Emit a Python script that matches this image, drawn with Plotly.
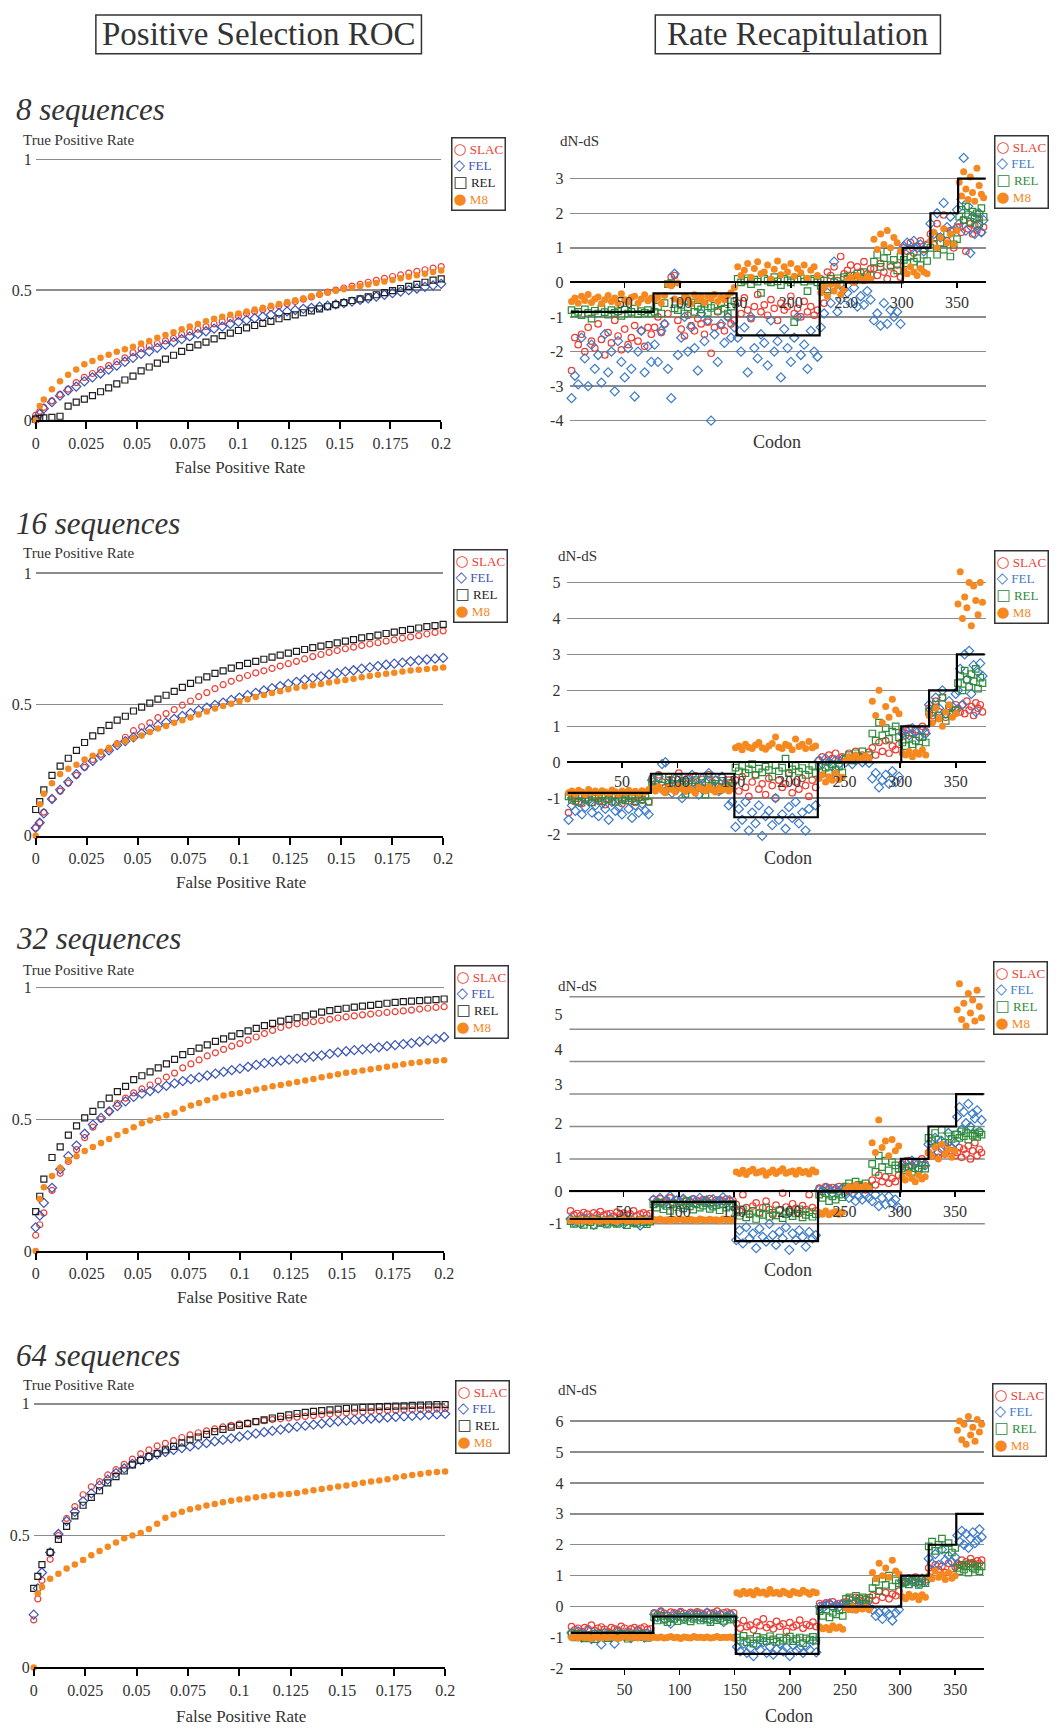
import plotly.graph_objects as go

# ---------------------------------------------------------------- data
PANELS = ["8 sequences", "16 sequences", "32 sequences", "64 sequences"]
METHODS = ["SLAC", "FEL", "REL", "M8"]

# ROC: false positive rate sampling and true positive rates
FPR = [0, 0.002] + [round(0.004 * i, 3) for i in range(1, 51)]
ROC_TICKS = [0, 0.025, 0.05, 0.075, 0.1, 0.125, 0.15, 0.175, 0.2]
ROC_TICKTEXT = ["0", "0.025", "0.05", "0.075", "0.1", "0.125", "0.15", "0.175", "0.2"]

ROC8_SLAC = [0.02, 0.035, 0.05, 0.075, 0.10, 0.12, 0.145, 0.165, 0.18, 0.195, 0.21, 0.225, 0.24, 0.26, 0.275, 0.285, 0.295, 0.305, 0.315, 0.33, 0.34, 0.35, 0.36, 0.37, 0.38, 0.39,
             0.40, 0.41, 0.418, 0.425, 0.432, 0.44, 0.448, 0.456, 0.465, 0.474, 0.483, 0.492, 0.50, 0.508, 0.515, 0.522, 0.53, 0.537, 0.545, 0.552, 0.558, 0.565, 0.572, 0.578, 0.584, 0.59]
ROC8_FEL = [0.005, 0.025, 0.045, 0.07, 0.095, 0.115, 0.13, 0.15, 0.165, 0.18, 0.195, 0.21, 0.225, 0.24, 0.255, 0.265, 0.278, 0.29, 0.30, 0.312, 0.322, 0.332, 0.342, 0.352, 0.36, 0.37,
            0.378, 0.385, 0.392, 0.398, 0.405, 0.412, 0.418, 0.423, 0.428, 0.432, 0.436, 0.44, 0.445, 0.45, 0.456, 0.462, 0.468, 0.475, 0.482, 0.488, 0.494, 0.50, 0.506, 0.512, 0.518, 0.524]
ROC8_REL = [0.005, 0.008, 0.01, 0.012, 0.016, 0.055, 0.07, 0.082, 0.095, 0.11, 0.125, 0.14, 0.155, 0.17, 0.19, 0.205, 0.22, 0.235, 0.25, 0.265, 0.28, 0.29, 0.30, 0.313, 0.325, 0.335,
            0.345, 0.355, 0.364, 0.372, 0.38, 0.39, 0.398, 0.405, 0.413, 0.42, 0.428, 0.436, 0.444, 0.452, 0.46, 0.466, 0.474, 0.482, 0.49, 0.498, 0.506, 0.514, 0.522, 0.53, 0.538, 0.543]
ROC8_M8 = [0.0, 0.055, 0.08, 0.12, 0.15, 0.175, 0.195, 0.215, 0.228, 0.24, 0.252, 0.263, 0.273, 0.283, 0.295, 0.305, 0.317, 0.328, 0.338, 0.35, 0.36, 0.37, 0.38, 0.39, 0.398, 0.405,
           0.41, 0.418, 0.425, 0.432, 0.44, 0.447, 0.454, 0.461, 0.468, 0.476, 0.484, 0.49, 0.497, 0.503, 0.509, 0.515, 0.521, 0.527, 0.533, 0.539, 0.545, 0.551, 0.557, 0.563, 0.569, 0.575]

ROC16_SLAC = [0.03, 0.05, 0.09, 0.14, 0.17, 0.2, 0.23, 0.26, 0.29, 0.31, 0.33, 0.35, 0.375, 0.40, 0.415, 0.43, 0.45, 0.465, 0.48, 0.497, 0.513, 0.53, 0.545, 0.56, 0.575, 0.588,
              0.60, 0.61, 0.62, 0.628, 0.637, 0.646, 0.655, 0.664, 0.673, 0.682, 0.69, 0.698, 0.705, 0.712, 0.718, 0.724, 0.73, 0.735, 0.741, 0.746, 0.752, 0.757, 0.762, 0.768, 0.774, 0.78]
ROC16_FEL = [0.03, 0.05, 0.085, 0.14, 0.175, 0.205, 0.235, 0.265, 0.285, 0.305, 0.325, 0.345, 0.36, 0.375, 0.39, 0.405, 0.42, 0.432, 0.445, 0.456, 0.467, 0.478, 0.488, 0.498, 0.507, 0.517,
             0.526, 0.535, 0.544, 0.553, 0.562, 0.57, 0.578, 0.586, 0.594, 0.6, 0.607, 0.613, 0.619, 0.625, 0.63, 0.636, 0.641, 0.646, 0.651, 0.655, 0.659, 0.664, 0.668, 0.671, 0.674, 0.677]
ROC16_REL = [0.1, 0.13, 0.175, 0.23, 0.265, 0.295, 0.325, 0.355, 0.38, 0.40, 0.42, 0.44, 0.455, 0.475, 0.49, 0.505, 0.52, 0.535, 0.55, 0.565, 0.58, 0.593, 0.605, 0.618, 0.628, 0.638,
             0.648, 0.656, 0.664, 0.672, 0.68, 0.688, 0.695, 0.702, 0.709, 0.716, 0.722, 0.728, 0.734, 0.741, 0.747, 0.753, 0.758, 0.764, 0.77, 0.775, 0.781, 0.786, 0.791, 0.796, 0.80, 0.805]
ROC16_M8 = [0.0, 0.12, 0.16, 0.2, 0.235, 0.255, 0.27, 0.29, 0.305, 0.32, 0.335, 0.35, 0.36, 0.372, 0.382, 0.395, 0.408, 0.418, 0.43, 0.44, 0.45, 0.462, 0.473, 0.484, 0.494, 0.503,
            0.512, 0.52, 0.528, 0.536, 0.543, 0.55, 0.558, 0.563, 0.568, 0.573, 0.578, 0.583, 0.588, 0.593, 0.598, 0.603, 0.608, 0.613, 0.617, 0.621, 0.625, 0.629, 0.632, 0.635, 0.638, 0.641]

ROC32_SLAC = [0.06, 0.10, 0.145, 0.23, 0.295, 0.34, 0.385, 0.43, 0.47, 0.5, 0.53, 0.56, 0.58, 0.6, 0.615, 0.63, 0.645, 0.66, 0.675, 0.695, 0.71, 0.725, 0.74, 0.752, 0.765, 0.777,
              0.787, 0.8, 0.812, 0.825, 0.837, 0.848, 0.857, 0.862, 0.866, 0.87, 0.874, 0.879, 0.884, 0.888, 0.892, 0.896, 0.899, 0.902, 0.905, 0.908, 0.911, 0.914, 0.918, 0.921, 0.924, 0.927]
ROC32_FEL = [0.09, 0.135, 0.183, 0.24, 0.31, 0.36, 0.40, 0.445, 0.48, 0.505, 0.53, 0.55, 0.568, 0.585, 0.597, 0.607, 0.617, 0.627, 0.636, 0.645, 0.652, 0.659, 0.666, 0.673, 0.68, 0.686,
             0.692, 0.699, 0.706, 0.713, 0.718, 0.722, 0.726, 0.73, 0.734, 0.738, 0.742, 0.748, 0.754, 0.758, 0.762, 0.765, 0.769, 0.773, 0.777, 0.781, 0.785, 0.789, 0.794, 0.799, 0.805, 0.812]
ROC32_REL = [0.15, 0.208, 0.273, 0.355, 0.395, 0.44, 0.475, 0.505, 0.53, 0.555, 0.58, 0.605, 0.625, 0.65, 0.665, 0.68, 0.695, 0.71, 0.727, 0.745, 0.757, 0.77, 0.782, 0.795, 0.805, 0.815,
             0.825, 0.835, 0.845, 0.855, 0.864, 0.872, 0.879, 0.885, 0.892, 0.899, 0.906, 0.912, 0.917, 0.921, 0.925, 0.929, 0.932, 0.936, 0.94, 0.943, 0.946, 0.948, 0.95, 0.952, 0.954, 0.956]
ROC32_M8 = [0.0, 0.198, 0.242, 0.285, 0.315, 0.345, 0.36, 0.38, 0.395, 0.41, 0.425, 0.44, 0.455, 0.47, 0.485, 0.495, 0.505, 0.515, 0.525, 0.54, 0.552, 0.562, 0.572, 0.582, 0.59, 0.596,
            0.6, 0.606, 0.613, 0.619, 0.625, 0.63, 0.636, 0.641, 0.647, 0.653, 0.659, 0.665, 0.671, 0.676, 0.68, 0.685, 0.69, 0.694, 0.699, 0.704, 0.709, 0.713, 0.716, 0.72, 0.722, 0.724]

ROC64_SLAC = [0.18, 0.26, 0.33, 0.41, 0.5, 0.565, 0.61, 0.655, 0.685, 0.705, 0.73, 0.75, 0.77, 0.79, 0.81, 0.825, 0.84, 0.85, 0.86, 0.872, 0.882, 0.89, 0.897, 0.905, 0.912, 0.918,
              0.924, 0.928, 0.932, 0.936, 0.94, 0.943, 0.946, 0.949, 0.952, 0.955, 0.958, 0.961, 0.963, 0.965, 0.967, 0.969, 0.971, 0.973, 0.974, 0.975, 0.976, 0.977, 0.978, 0.979, 0.98, 0.981]
ROC64_FEL = [0.2, 0.3, 0.36, 0.436, 0.506, 0.555, 0.59, 0.63, 0.66, 0.69, 0.712, 0.737, 0.755, 0.772, 0.786, 0.798, 0.808, 0.817, 0.825, 0.832, 0.838, 0.845, 0.851, 0.857, 0.863, 0.869,
             0.875, 0.881, 0.887, 0.892, 0.897, 0.902, 0.908, 0.913, 0.917, 0.921, 0.925, 0.929, 0.933, 0.936, 0.939, 0.942, 0.944, 0.946, 0.948, 0.95, 0.952, 0.954, 0.956, 0.958, 0.96, 0.962]
ROC64_REL = [0.3, 0.345, 0.39, 0.436, 0.486, 0.535, 0.575, 0.615, 0.645, 0.67, 0.7, 0.724, 0.745, 0.768, 0.785, 0.8, 0.812, 0.825, 0.838, 0.852, 0.863, 0.874, 0.884, 0.894, 0.903, 0.911,
             0.918, 0.925, 0.932, 0.939, 0.946, 0.952, 0.958, 0.963, 0.967, 0.971, 0.974, 0.977, 0.98, 0.982, 0.984, 0.986, 0.987, 0.989, 0.99, 0.991, 0.992, 0.994, 0.995, 0.996, 0.997, 0.997]
ROC64_M8 = [0.0, 0.28, 0.305, 0.336, 0.355, 0.375, 0.39, 0.407, 0.425, 0.442, 0.458, 0.474, 0.49, 0.5, 0.51, 0.525, 0.545, 0.568, 0.58, 0.59, 0.6, 0.607, 0.614, 0.62, 0.626, 0.632,
            0.637, 0.641, 0.645, 0.649, 0.653, 0.656, 0.658, 0.662, 0.667, 0.672, 0.677, 0.681, 0.686, 0.69, 0.695, 0.70, 0.705, 0.709, 0.714, 0.72, 0.725, 0.73, 0.734, 0.738, 0.741, 0.743]

# Rate recapitulation: codon sampling and dN-dS estimates
CODON = list(range(2, 351, 3)) + list(range(352, 375, 2))
CODON_TICKS = [50, 100, 150, 200, 250, 300, 350]
TRUE_X = [1, 76, 151, 226, 301, 326, 351, 376]
TRUE_Y = [-0.85, -0.32, -1.53, 0, 1, 2, 3, 3]

R8_SLAC = [-2.55, -1.6, -1.8, -1.5, -2.0, -1.3, -1.7, -1.9, -1.2, -1.65, -2.1, -1.45, -1.75, -1.1, -1.55, -1.95, -1.35, -1.8, -1.6, -1.25, -1.7, -1.4, -1.85, -1.3, -1.5,
           -1.3, -1.0, -1.45, -1.2, -0.9, 0.15, 0.2, -1.1, -1.35, -1.55, -0.95, -1.25, -1.4, -1.05, -1.2, -1.5, -1.15, -2.05, -1.3, -0.85, -1.25, -1.4, -1.0, -1.2, -1.1,
           -0.6, -0.9, -0.45, -0.8, -1.05, -0.7, -0.35, -0.85, -0.65, -0.95, -0.5, -0.75, -1.1, -0.6, -0.8, -0.7, -0.4, -0.9, -0.75, -1.0, -0.55, -0.85, -0.7, -0.95, -0.8,
           0.1, -0.6, 0.3, 0.2, 0.45, 0.05, 0.75, 0.25, 0.35, 0.5, 0.2, 0.45, 0.3, 0.6, 0.25, 0.4, 0.4, 0.2, 0.55, 0.3, 0.1, 0.45, 0.25, 0.5, 0.15,
           1.0, 0.9, 1.15, 0.85, 1.05, 1.2, 0.95, 1.1,
           1.4, 1.1, 1.7, 1.3, 1.95, 1.2, 1.5, 1.0, 1.6,
           1.6, 1.45, 1.8, 0.9, 1.55, 1.7, 1.4, 1.65, 1.5, 1.85, 1.45, 1.6]
R8_FEL = [-3.35, -2.7, -2.95, -1.6, -2.2, -3.0, -1.8, -2.5, -2.1, -2.9, -1.5, -2.6, -2.0, -3.15, -1.7, -2.3, -2.75, -1.9, -2.5, -3.3, -2.0, -1.4, -2.6, -1.85, -2.3,
          -1.8, -2.3, -1.4, -1.2, -2.5, -3.35, 0.25, -2.1, -1.6, -1.0, -2.0, -1.3, -1.9, -2.55, -0.9, -1.7, -1.1, -4.0, -1.5, -2.3, -1.2, -1.75, -1.0, -1.6, -1.3,
          -1.6, -2.0, -1.3, -2.6, -1.0, -1.9, -2.2, -1.5, -1.75, -2.4, -1.1, -2.0, -1.7, -2.75, -1.35, -1.9, -2.3, -1.6, -1.0, -2.1, -1.8, -2.5, -1.4, -2.0, -2.15,
          -1.3, -0.9, -0.3, -0.6, 0.6, -0.85, -0.5, -0.2, -0.3, -0.6, -0.15, -0.7, -0.4, -0.65, -0.25, -0.5, -1.1, -0.9, -1.25, -0.6, -1.2, -0.8, -1.0, -0.85, -1.2,
          1.05, 1.15, 0.95, 1.2, 1.0, 1.1, 0.9, 1.05,
          1.7, 1.4, 2.0, 1.3, 2.3, 1.6, 1.9, 1.5, 2.1,
          1.7, 2.4, 3.6, 1.5, 2.2, 0.85, 1.9, 1.4, 1.65, 2.0, 1.45, 1.8]
R8_REL = [-0.8, -0.9, -0.85, -0.95, -0.78, -0.88, -1.05, -0.82, -0.9, -0.75, -0.86, -0.93, -0.8, -0.88, -0.84, -0.97, -0.79, -0.9, -0.85, -0.76, -0.92, -0.83, -0.88, -0.8, -0.9,
          -0.85, -0.7, -0.9, -0.6, -0.05, -0.02, -0.75, -0.8, -0.65, -0.9, -0.72, -0.58, -0.85, -0.7, -0.78, -0.62, -0.88, -0.74, -0.68, -0.82, -0.6, -0.76, -0.9, -0.7, -0.55,
          0.1, 0.0, 0.05, 0.12, -0.05, 0.08, 0.02, -0.3, 0.1, 0.05, 0.0, 0.15, 0.03, -0.08, 0.1, 0.06, 0.0, -1.15, 0.08, 0.12, 0.02, -0.25, 0.05, 0.1, 0.0,
          -0.1, 0.05, -0.2, 0.1, 0.0, 0.12, -0.05, 0.15, 0.1, 0.2, 0.05, 0.25, 0.15, 0.3, 0.1, 0.2, 0.6, 0.8, 0.45, 0.7, 0.9, 0.5, 0.65, 0.35, 0.75,
          0.65, 0.55, 0.75, 0.6, 0.7, 0.5, 0.8, 0.62,
          1.0, 1.3, 0.8, 1.15, 0.95, 1.4, 0.75, 1.1, 1.25,
          1.9, 2.1, 1.8, 2.2, 1.95, 1.75, 2.05, 1.85, 2.0, 1.7, 2.15, 1.9]
R8_M8 = [-0.55, -0.45, -0.6, -0.4, -0.52, -0.35, -0.58, -0.48, -0.42, -0.62, -0.5, -0.38, -0.55, -0.45, -0.6, -0.33, -0.5, -0.57, -0.44, -0.4, -0.6, -0.48, -0.36, -0.53, -0.45,
         -0.5, -0.42, -0.6, -0.38, -0.05, -0.1, -0.48, -0.02, -0.55, -0.4, -0.45, -0.62, -0.36, -0.5, -0.42, -0.58, -0.4, -0.47, -0.35, -0.55, -0.44, -0.5, -0.38, -0.3, -0.15,
         0.45, 0.2, 0.35, 0.55, 0.15, 0.4, 0.6, 0.25, 0.3, 0.5, 0.1, 0.38, 0.62, 0.22, 0.45, 0.3, 0.55, 0.18, 0.4, 0.28, 0.5, 0.12, 0.35, 0.45, 0.2,
         -0.3, -0.15, -0.4, -0.05, -0.25, -0.1, -0.35, -0.2, 0.05, 0.15, 0.0, 0.2, 0.1, 0.05, 0.18, 0.1, 1.25, 0.95, 1.4, 1.1, 1.5, 1.0, 1.3, 1.15, 0.9,
         0.35, 0.25, 0.45, 0.3, 0.2, 0.4, 0.3, 0.25,
         1.2, 1.45, 1.0, 1.3, 1.55, 1.15, 1.4, 1.1, 1.5,
         2.9, 2.5, 3.2, 2.7, 2.4, 3.05, 2.6, 2.35, 3.3, 2.8, 2.55, 2.45]

R16_SLAC = [-1.4, -1.0, -1.1, -0.95, -1.15, -1.05, -0.9, -1.12, -1.0, -1.08, -0.95, -1.18, -1.02, -1.1, -0.92, -1.05, -1.15, -1.0, -1.08, -0.96, -1.12, -1.0, -1.06, -0.94, -1.1,
            -0.45, -0.6, -0.35, -0.55, -0.7, -0.4, -0.5, -0.65, -0.3, -0.52, -0.8, -0.45, -0.58, -0.38, -0.62, -0.48, -0.72, -0.35, -0.55, -0.5, -0.68, -0.42, -0.6, -0.5, -0.56,
            -0.5, -0.8, -0.4, -0.7, -0.95, -0.55, -0.35, -0.75, -0.6, -0.9, -0.45, -0.65, -1.0, -0.5, -0.7, -0.6, -0.3, -0.85, -0.55, -0.75, -0.45, -0.65, -0.95, -0.5, -0.7,
            0.05, 0.15, 0.0, 0.2, 0.1, 0.25, 0.05, 0.15, 0.1, 0.25, 0.05, 0.3, 0.15, 0.2, 0.1, 0.28, 0.4, 0.2, 0.55, 0.3, 0.6, 0.25, 0.45, 0.35, 0.5,
            0.85, 0.75, 0.95, 0.8, 0.9, 0.7, 1.0, 0.85,
            1.5, 1.3, 1.7, 1.4, 1.8, 1.25, 1.55, 1.35, 1.6,
            1.5, 1.4, 1.6, 1.35, 1.7, 1.45, 1.55, 1.3, 1.65, 1.5, 1.6, 1.4]
R16_FEL = [-1.6, -1.2, -1.35, -1.1, -1.45, -1.25, -1.05, -1.4, -1.2, -1.5, -1.15, -1.3, -1.6, -1.1, -1.35, -1.25, -1.45, -1.0, -1.3, -1.55, -1.2, -1.4, -1.15, -1.35, -1.45,
           -0.5, -0.7, -0.4, -0.05, 0.0, -0.6, -0.85, -0.45, -0.65, -1.0, -0.5, -0.75, -0.35, -0.6, -0.9, -0.45, -0.55, -0.3, -0.7, -0.5, -0.8, -0.4, -0.65, -1.2, -1.1,
           -1.8, -1.3, -1.6, -1.1, -1.9, -1.4, -1.7, -1.2, -2.05, -1.5, -1.35, -1.75, -1.0, -1.6, -1.45, -1.85, -1.25, -1.55, -1.1, -1.7, -1.4, -1.9, -1.3, -2.15, -1.2,
           0.05, -0.05, 0.1, 0.0, -0.1, 0.05, -0.05, 0.08, 0.0, 0.1, -0.05, 0.05, 0.12, 0.0, 0.08, -0.02, -0.45, -0.3, -0.7, -0.5, -0.35, -0.6, -0.25, -0.55, -0.4,
           0.8, 0.9, 0.75, 0.95, 0.85, 0.7, 0.9, 0.8,
           1.6, 1.4, 1.8, 1.5, 2.0, 1.35, 1.7, 1.55, 1.9,
           2.0, 2.6, 1.6, 3.0, 2.3, 3.1, 1.9, 2.7, 1.4, 2.5, 2.75, 2.4]
R16_REL = [-0.95, -1.05, -1.0, -1.1, -0.92, -1.02, -0.98, -1.12, -0.95, -1.0, -1.08, -0.93, -1.04, -0.98, -1.1, -0.96, -1.02, -1.06, -0.94, -1.0, -1.08, -0.97, -1.03, -0.95, -1.1,
           -0.55, -0.7, -0.45, -0.65, -0.8, -0.5, -0.6, -0.75, -0.42, -0.62, -0.88, -0.55, -0.68, -0.5, -0.72, -0.58, -0.9, -0.48, -0.65, -0.6, -0.78, -0.52, -0.7, -0.58, -0.66,
           -0.15, -0.25, -0.1, -0.3, -0.2, -0.05, -0.35, -0.18, -0.28, -0.12, -0.22, -0.4, -0.08, -0.25, -0.15, 0.1, -0.3, -0.2, -0.1, -0.26, -0.16, -0.35, -0.22, -0.1, -0.3,
           -0.1, -0.25, -0.15, -0.3, -0.05, -0.2, -0.12, -0.28, 0.1, 0.2, 0.05, 0.25, 0.15, 0.3, 0.1, 0.2, 0.8, 0.6, 1.1, 0.75, 0.95, 0.65, 0.85, 1.0, 0.7,
           0.55, 0.45, 0.65, 0.5, 0.6, 0.4, 0.7, 0.55,
           1.4, 1.2, 1.6, 1.3, 1.8, 1.15, 1.5, 1.35, 1.45,
           2.2, 2.4, 2.0, 2.55, 2.3, 2.1, 2.45, 2.25, 2.6, 2.05, 2.35, 2.2]
R16_M8 = [-0.85, -0.8, -0.88, -0.78, -0.83, -0.9, -0.76, -0.84, -0.8, -0.87, -0.79, -0.83, -0.86, -0.77, -0.82, -0.88, -0.8, -0.84, -0.78, -0.85, -0.81, -0.87, -0.79, -0.83, -0.76,
          -0.72, -0.8, -0.68, -0.78, -0.85, -0.7, -0.76, -0.82, -0.66, -0.74, -0.8, -0.72, -0.78, -0.86, -0.7, -0.75, -0.8, -0.68, -0.77, -0.83, -0.72, -0.78, -0.7, -0.8, -0.74,
          0.4, 0.45, 0.35, 0.5, 0.42, 0.38, 0.48, 0.55, 0.4, 0.36, 0.45, 0.52, 0.7, 0.42, 0.38, 0.5, 0.46, 0.35, 0.65, 0.44, 0.5, 0.38, 0.58, 0.4, 0.45,
          -0.45, -0.35, -0.55, -0.4, -0.5, -0.3, -0.48, -0.42, 0.05, 0.15, 0.1, 0.2, 0.08, 0.12, 0.18, 0.1, 1.7, 1.3, 2.0, 1.1, 1.55, 1.25, 1.75, 1.45, 1.35,
          0.25, 0.2, 0.3, 0.15, 0.28, 0.22, 0.35, 0.2,
          1.3, 1.1, 1.5, 1.2, 1.0, 1.4, 1.6, 1.25, 1.35,
          4.4, 5.3, 4.0, 4.6, 4.3, 5.0, 3.8, 4.9, 4.5, 4.1, 5.0, 4.45]

R32_SLAC = [-0.6, -0.72, -0.68, -0.75, -0.65, -0.7, -0.78, -0.66, -0.72, -0.62, -0.74, -0.7, -0.68, -0.76, -0.64, -0.71, -0.67, -0.73, -0.69, -0.6, -0.75, -0.7, -0.66, -0.72, -0.68,
            -0.25, -0.3, -0.22, -0.32, -0.27, -0.2, -0.34, -0.26, -0.3, -0.24, -0.29, -0.33, -0.23, -0.28, -0.31, -0.25, -0.3, -0.22, -0.35, -0.27, -0.26, -0.3, -0.24, -0.29, -0.28,
            -0.4, -0.6, -0.1, -0.5, -0.7, -0.45, -0.35, -0.65, -0.5, -0.3, -0.55, -0.72, -0.42, -0.58, -0.05, -0.48, -0.62, -0.38, -0.52, -0.68, -0.44, -0.56, -0.1, -0.5, -0.6,
            0.1, 0.05, 0.15, 0.1, 0.12, 0.05, 0.15, 0.08, 0.1, 0.0, 0.15, 0.05, 0.2, 0.1, 0.05, 0.15, 0.35, 0.2, 0.5, 0.3, 0.45, 0.25, 0.4, 0.3, 0.5,
            0.85, 0.75, 0.95, 0.8, 0.9, 0.7, 1.0, 0.85,
            1.2, 1.1, 1.4, 1.05, 1.3, 1.15, 1.5, 1.25, 1.1,
            1.2, 1.35, 1.05, 1.3, 1.15, 1.4, 1.0, 1.25, 1.5, 1.1, 1.3, 1.2]
R32_FEL = [-0.85, -0.95, -0.9, -1.0, -0.82, -0.92, -0.88, -1.03, -0.86, -0.94, -0.9, -0.98, -0.84, -0.92, -0.96, -0.88, -1.0, -0.9, -0.86, -0.95, -0.92, -1.05, -0.87, -0.93, -0.9,
           -0.25, -0.35, -0.2, -0.4, -0.3, -0.15, -0.38, -0.28, -0.33, -0.22, -0.42, -0.3, -0.26, -0.36, -0.2, -0.32, -0.28, -0.4, -0.24, -0.34, -0.3, -0.18, -0.36, -0.27, -0.45,
           -1.5, -1.2, -1.6, -1.1, -1.45, -1.3, -1.75, -1.15, -1.4, -1.55, -1.0, -1.35, -1.65, -1.25, -1.45, -1.1, -1.8, -1.3, -1.5, -1.2, -1.4, -1.7, -1.25, -1.45, -1.35,
           0.05, 0.0, 0.1, 0.05, -0.05, 0.08, 0.0, 0.1, -0.1, -0.2, -0.05, -0.3, -0.15, -0.25, -0.1, -0.2, -0.3, -0.1, -0.45, -0.2, -0.4, -0.15, -0.35, -0.25, -0.5,
           0.8, 0.9, 0.75, 0.95, 0.85, 0.7, 0.88, 0.8,
           1.45, 1.3, 1.65, 1.2, 1.55, 1.4, 1.8, 1.35, 1.5,
           2.3, 2.6, 1.9, 2.45, 2.1, 2.7, 2.0, 2.4, 2.25, 2.5, 1.85, 2.2]
R32_REL = [-0.92, -1.0, -0.88, -0.97, -1.03, -0.9, -0.95, -1.05, -0.87, -0.98, -0.93, -1.02, -0.9, -0.96, -1.0, -0.88, -0.94, -1.04, -0.91, -0.97, -0.99, -0.89, -0.95, -1.01, -0.93,
           -0.4, -0.5, -0.35, -0.55, -0.45, -0.6, -0.38, -0.48, -0.42, -0.52, -0.3, -0.46, -0.56, -0.4, -0.5, -0.44, -0.36, -0.54, -0.47, -0.42, -0.58, -0.4, -0.5, -0.45, -0.38,
           -0.65, -0.75, -0.55, -0.8, -0.7, -0.6, -0.85, -0.68, -0.72, -0.5, -0.78, -0.66, -0.74, -0.58, -0.82, -0.7, -0.62, -0.76, -0.68, -0.55, -0.8, -0.72, -0.64, -0.78, -0.7,
           -0.1, -0.2, -0.05, -0.3, -0.15, -0.25, -0.1, -0.18, 0.15, 0.25, 0.1, 0.3, 0.2, 0.15, 0.25, 0.1, 0.85, 0.6, 1.1, 0.75, 0.95, 0.65, 0.9, 0.8, 0.7,
           0.7, 0.65, 0.75, 0.6, 0.72, 0.68, 0.8, 0.7,
           1.65, 1.55, 1.8, 1.6, 1.9, 1.5, 1.7, 1.62, 1.75,
           1.75, 1.65, 1.85, 1.7, 1.8, 1.6, 1.9, 1.72, 1.78, 1.68, 1.82, 1.75]
R32_M8 = [-0.9, -0.88, -0.92, -0.87, -0.91, -0.89, -0.93, -0.86, -0.9, -0.92, -0.88, -0.91, -0.87, -0.9, -0.93, -0.89, -0.86, -0.91, -0.9, -0.88, -0.92, -0.87, -0.9, -0.89, -0.91,
          -0.86, -0.88, -0.85, -0.89, -0.87, -0.9, -0.86, -0.88, -0.85, -0.87, -0.89, -0.86, -0.88, -0.9, -0.85, -0.87, -0.89, -0.86, -0.88, -0.87, -0.9, -0.85, -0.88, -0.86, -0.89,
          0.6, 0.55, 0.65, 0.52, 0.62, 0.68, 0.57, 0.6, 0.64, 0.5, 0.58, 0.66, 0.55, 0.62, 0.7, 0.56, 0.6, 0.63, 0.53, 0.65, 0.58, 0.61, 0.54, 0.66, 0.6,
          -0.65, -0.7, -0.6, -0.72, -0.66, -0.62, -0.7, -0.64, 0.05, 0.15, 0.1, 0.2, 0.08, 0.12, 0.18, 0.1, 1.5, 1.2, 2.2, 1.35, 1.55, 1.1, 1.6, 1.25, 1.4,
          0.45, 0.35, 0.55, 0.4, 0.3, 0.5, 0.38, 0.45,
          1.2, 1.1, 1.35, 1.0, 1.45, 1.15, 1.3, 1.05, 1.25,
          5.6, 6.4, 5.3, 5.8, 5.1, 6.1, 5.5, 5.9, 5.25, 6.2, 5.7, 5.35]

R64_SLAC = [-0.65, -0.75, -0.7, -0.8, -0.68, -0.72, -0.6, -0.78, -0.7, -0.66, -0.74, -0.82, -0.68, -0.72, -0.76, -0.64, -0.7, -0.8, -0.72, -0.68, -0.75, -0.7, -0.66, -0.74, -0.72,
            -0.2, -0.25, -0.15, -0.22, -0.28, -0.18, -0.2, -0.24, -0.16, -0.22, -0.3, -0.19, -0.23, -0.17, -0.21, -0.26, -0.18, -0.22, -0.2, -0.15, -0.25, -0.2, -0.18, -0.23, -0.2,
            -0.55, -0.7, -0.45, -0.65, -0.6, -0.75, -0.5, -0.62, -0.4, -0.68, -0.58, -0.72, -0.48, -0.64, -0.56, -0.8, -0.52, -0.66, -0.6, -0.44, -0.7, -0.58, -0.62, -0.5, -0.65,
            0.1, 0.05, 0.12, 0.08, 0.15, 0.05, 0.1, 0.12, 0.15, 0.25, 0.1, 0.3, 0.2, 0.15, 0.25, 0.2, 0.35, 0.2, 0.5, 0.3, 0.45, 0.25, 0.4, 0.35, 0.5,
            0.88, 0.82, 0.92, 0.85, 0.95, 0.8, 0.9, 0.86,
            1.25, 1.15, 1.35, 1.2, 1.3, 1.1, 1.4, 1.22, 1.28,
            1.4, 1.35, 1.5, 1.3, 1.45, 1.38, 1.55, 1.42, 1.35, 1.48, 1.4, 1.5]
R64_FEL = [-0.85, -0.95, -0.8, -1.0, -0.9, -0.78, -1.05, -0.88, -0.95, -1.22, -0.85, -0.92, -1.0, -1.2, -0.82, -0.9, -0.96, -0.86, -1.02, -0.9, -0.8, -0.94, -1.0, -0.87, -0.92,
           -0.25, -0.35, -0.2, -0.4, -0.3, -0.55, -0.28, -0.32, -0.22, -0.38, -0.3, -0.26, -0.34, -0.24, -0.36, -0.3, -0.2, -0.42, -0.28, -0.33, -0.25, -0.5, -0.3, -0.27, -0.35,
           -1.3, -1.45, -1.2, -1.5, -1.35, -1.6, -1.25, -1.4, -1.15, -1.5, -1.3, -1.55, -1.38, -1.2, -1.45, -1.32, -1.6, -1.25, -1.42, -1.35, -1.5, -1.28, -1.4, -1.1, -1.48,
           0.0, -0.05, 0.05, 0.1, -0.02, 0.05, 0.0, 0.08, 0.0, 0.1, -0.05, 0.15, 0.05, 0.0, 0.1, -0.05, -0.1, -0.3, -0.2, -0.4, -0.15, -0.25, -0.45, -0.2, -0.1,
           0.82, 0.78, 0.88, 0.8, 0.85, 0.75, 0.9, 0.8,
           1.55, 1.4, 1.7, 1.35, 1.85, 1.5, 1.65, 1.45, 1.6,
           2.3, 2.1, 2.45, 2.0, 2.35, 1.9, 2.2, 2.4, 2.05, 2.15, 2.5, 2.25]
R64_REL = [-0.9, -1.0, -0.88, -0.97, -1.03, -0.92, -0.95, -1.05, -0.87, -0.98, -0.93, -1.02, -0.9, -0.96, -1.0, -0.88, -0.94, -1.04, -0.91, -0.97, -0.99, -0.89, -0.95, -1.01, -0.93,
           -0.35, -0.45, -0.3, -0.42, -0.5, -0.38, -0.4, -0.47, -0.33, -0.43, -0.36, -0.48, -0.4, -0.32, -0.45, -0.38, -0.42, -0.5, -0.35, -0.44, -0.39, -0.46, -0.34, -0.42, -0.4,
           -1.0, -1.1, -0.95, -1.15, -1.05, -1.2, -0.98, -1.08, -1.02, -1.12, -0.96, -1.06, -1.14, -1.0, -1.1, -1.04, -0.97, -1.12, -1.05, -1.0, -1.18, -1.03, -1.08, -0.98, -1.1,
           -0.15, -0.3, -0.1, -0.35, -0.2, -0.25, -0.12, -0.3, 0.25, 0.3, 0.2, 0.35, 0.25, 0.3, 0.22, 0.28, 0.6, 0.8, 0.5, 0.9, 0.7, 1.0, 0.65, 0.85, 0.75,
           0.75, 0.8, 0.72, 0.85, 0.78, 0.7, 0.82, 0.76,
           1.95, 2.1, 1.8, 2.0, 2.2, 1.85, 2.05, 1.75, 1.9,
           1.25, 1.15, 1.35, 1.2, 1.3, 1.1, 1.4, 1.25, 1.2, 1.3, 1.15, 1.3]
R64_M8 = [-1.0, -0.98, -1.02, -0.97, -1.01, -0.99, -1.03, -0.96, -1.0, -1.02, -0.98, -1.01, -0.97, -1.0, -1.03, -0.99, -0.96, -1.01, -1.0, -0.98, -1.02, -0.97, -1.0, -0.99, -1.01,
          -0.99, -1.01, -0.98, -1.02, -1.0, -0.97, -1.01, -0.99, -1.03, -0.98, -1.0, -1.02, -0.97, -1.0, -0.99, -1.01, -0.98, -1.02, -1.0, -0.97, -1.01, -0.99, -1.0, -0.98, -1.02,
          0.45, 0.4, 0.5, 0.42, 0.48, 0.38, 0.52, 0.44, 0.47, 0.4, 0.55, 0.43, 0.46, 0.41, 0.5, 0.44, 0.38, 0.49, 0.45, 0.42, 0.53, 0.46, 0.4, 0.48, 0.45,
          -0.65, -0.72, -0.68, -0.75, -0.62, -0.7, -0.66, -0.73, -0.05, -0.1, 0.0, -0.12, -0.05, -0.08, -0.02, -0.1, 1.1, 0.9, 1.4, 1.0, 1.25, 0.95, 1.5, 1.15, 1.05,
          0.32, 0.25, 0.4, 0.3, 0.35, 0.22, 0.38, 0.3,
          1.0, 0.9, 1.15, 0.95, 1.05, 0.88, 1.1, 0.92, 1.0,
          5.7, 6.0, 5.4, 5.9, 5.25, 6.15, 5.55, 5.8, 5.35, 6.05, 5.65, 5.9]

ROC_DATA = [
    {"SLAC": ROC8_SLAC, "FEL": ROC8_FEL, "REL": ROC8_REL, "M8": ROC8_M8},
    {"SLAC": ROC16_SLAC, "FEL": ROC16_FEL, "REL": ROC16_REL, "M8": ROC16_M8},
    {"SLAC": ROC32_SLAC, "FEL": ROC32_FEL, "REL": ROC32_REL, "M8": ROC32_M8},
    {"SLAC": ROC64_SLAC, "FEL": ROC64_FEL, "REL": ROC64_REL, "M8": ROC64_M8},
]
RATE_DATA = [
    {"SLAC": R8_SLAC, "FEL": R8_FEL, "REL": R8_REL, "M8": R8_M8},
    {"SLAC": R16_SLAC, "FEL": R16_FEL, "REL": R16_REL, "M8": R16_M8},
    {"SLAC": R32_SLAC, "FEL": R32_FEL, "REL": R32_REL, "M8": R32_M8},
    {"SLAC": R64_SLAC, "FEL": R64_FEL, "REL": R64_REL, "M8": R64_M8},
]

# ---------------------------------------------------------------- styling / layout
W, H = 1064, 1733            # page size
MARGIN = 8                   # default body margin of the html page
FW, FH = W - 2 * MARGIN, H - 2 * MARGIN   # figure size so the page is exactly W x H
SERIF = "Liberation Serif, Times New Roman, DejaVu Serif, serif"
TXT = "#333333"
GRID = "#8c8c8c"

RED = "#ee3d33"
ORANGE = "#f5881f"
ROC_COL = {"SLAC": RED, "FEL": "#3b55b6", "REL": "#1e1e1e", "M8": ORANGE}
RATE_COL = {"SLAC": RED, "FEL": "#3d7cca", "REL": "#2e8c3a", "M8": ORANGE}
SYMBOL = {"SLAC": "circle-open", "FEL": "diamond-open", "REL": "square-open", "M8": "circle"}
GLYPH = {"SLAC": "\u25cb", "FEL": "\u25c7", "REL": "\u25a1", "M8": "\u25cf"}
ROC_SIZE = {"SLAC": 6, "FEL": 7, "REL": 6, "M8": 6.5}
RATE_SIZE = {"SLAC": 6.5, "FEL": 7, "REL": 6.5, "M8": 7}

ROC_TOP = 1.01  # small headroom so the y=1 grid line is drawn
ROC_GEOM = [  # page-pixel geometry of each ROC panel (y=1 at ytop, y=0 at ybot)
    dict(x0=32, x1=443, ytop=155, ybot=418, title=104, tpr=135, fpr=465, leg=(453, 132)),
    dict(x0=32, x1=445, ytop=572, ybot=837, title=522, tpr=552, fpr=884, leg=(455, 548)),
    dict(x0=32, x1=446, ytop=990, ybot=1256, title=941, tpr=972, fpr=1303, leg=(456, 967)),
    dict(x0=30, x1=447, ytop=1410, ybot=1676, title=1361, tpr=1391, fpr=1725, leg=(457, 1386)),
]
RATE_GEOM = [
    dict(x0=574, x1=995, xr=[1, 376], yr=[-4.05, 3.75], ytop=148, ybot=420, grid=list(range(-4, 4)),
         zero_axis=True, codon=(783, 440), dnds=(561, 136), leg=(1003, 130)),
    dict(x0=571, x1=995, xr=[1, 377], yr=[-2.1, 5.4], ytop=567, ybot=839, grid=list(range(-2, 6)),
         zero_axis=True, codon=(795, 859), dnds=(559, 555), leg=(1003, 549)),
    dict(x0=573, x1=994, xr=[1, 377], yr=[-1.9, 6.5], ytop=983, ybot=1258, grid=list(range(-1, 7)),
         zero_axis=True, codon=(795, 1275), dnds=(559, 989), leg=(1002, 963),
         labels=([-0.98, 0, 1.04, 2.11, 3.30, 4.37, 5.47], ["-1", "0", "1", "2", "3", "4", "5"])),
    dict(x0=574, x1=993, xr=[1, 376], yr=[-2.0, 6.4], ytop=1415, ybot=1677, grid=list(range(-2, 7)),
         zero_axis=False, codon=(796, 1725), dnds=(559, 1396), leg=(1001, 1389)),
]


def px(xp):
    return (xp - MARGIN) / FW


def py(yp):
    return 1 - (yp - MARGIN) / FH


fig = go.Figure()
layout = {}
annotations = []
shapes = []


def axis_names(k):
    return ("xaxis" if k == 1 else f"xaxis{k}", "yaxis" if k == 1 else f"yaxis{k}",
            "x" if k == 1 else f"x{k}", "y" if k == 1 else f"y{k}")


def legend_text(colors):
    lines = []
    for m in METHODS:
        c = colors[m]
        lines.append(f'<span style="color:{c};font-size:15px;font-family:DejaVu Sans">{GLYPH[m]}</span>'
                     f'<span style="color:{c}"> {m}</span>')
    return "<br>".join(lines)


tickfont = dict(family=SERIF, size=16, color=TXT)

# ----- ROC panels
for i, g in enumerate(ROC_GEOM):
    k = i + 1
    xa, ya, xr, yr = axis_names(k)
    span = g["ybot"] - g["ytop"]
    top_px = g["ytop"] - (ROC_TOP - 1) * span
    layout[xa] = dict(domain=[px(g["x0"]), px(g["x1"])], range=[0, 0.2], anchor=yr,
                      showline=True, linecolor="black", linewidth=2, ticks="outside", ticklen=7,
                      tickwidth=2, tickcolor="black", tickvals=ROC_TICKS, ticktext=ROC_TICKTEXT,
                      tickfont=tickfont, showgrid=False, zeroline=False, fixedrange=True)
    layout[ya] = dict(domain=[py(g["ybot"]), py(top_px)], range=[0, ROC_TOP], anchor=xr,
                      tickvals=[0, 0.5, 1], ticktext=["0", "0.5", "1"], showgrid=True,
                      gridcolor=GRID, gridwidth=1.5, zeroline=False, showline=False, ticks="",
                      tickfont=tickfont, ticklabelstandoff=3, fixedrange=True)
    for m in METHODS:
        vals = ROC_DATA[i][m]
        filled = m == "M8"
        fig.add_trace(go.Scatter(
            x=FPR[:len(vals)], y=vals, mode="markers", name=m, showlegend=False,
            xaxis=xr, yaxis=yr, cliponaxis=False, hoverinfo="skip",
            marker=dict(symbol=SYMBOL[m], size=ROC_SIZE[m], color=ROC_COL[m],
                        line=dict(width=0 if filled else 1.2, color=ROC_COL[m]))))
    annotations += [
        dict(text=f"<i>{PANELS[i]}</i>", x=px(10), y=py(g["title"]), xref="paper", yref="paper",
             xanchor="left", yanchor="middle", showarrow=False,
             font=dict(family=SERIF, size=31, color=TXT)),
        dict(text="True Positive Rate", x=px(17), y=py(g["tpr"]), xref="paper", yref="paper",
             xanchor="left", yanchor="middle", showarrow=False,
             font=dict(family=SERIF, size=15, color=TXT)),
        dict(text="False Positive Rate", x=px((g["x0"] + g["x1"]) / 2 + 2), y=py(g["fpr"]),
             xref="paper", yref="paper", xanchor="center", yanchor="middle", showarrow=False,
             font=dict(family=SERIF, size=17, color=TXT)),
        dict(text=legend_text(ROC_COL), x=px(g["leg"][0]), y=py(g["leg"][1]), xref="paper",
             yref="paper", xanchor="left", yanchor="top", align="left", showarrow=False,
             bordercolor="#333333", borderwidth=1.5, borderpad=1, bgcolor="white",
             font=dict(family=SERIF, size=13, color=TXT)),
    ]

# ----- Rate panels
for i, g in enumerate(RATE_GEOM):
    k = i + 5
    xa, ya, xr, yr = axis_names(k)
    y_lo, y_hi = g["yr"]
    zero_pix = g["ytop"] + (y_hi - 0) / (y_hi - y_lo) * (g["ybot"] - g["ytop"])
    xaxis = dict(domain=[px(g["x0"]), px(g["x1"])], range=g["xr"], showline=True,
                 linecolor="black", linewidth=2, ticks="outside", ticklen=5, tickwidth=1.5,
                 tickcolor="black", tickvals=CODON_TICKS, tickfont=tickfont, showgrid=False,
                 zeroline=False, fixedrange=True)
    if g["zero_axis"]:
        xaxis.update(anchor="free", position=py(zero_pix))
    else:
        xaxis.update(anchor=yr)
    layout[xa] = xaxis
    yaxis = dict(domain=[py(g["ybot"]), py(g["ytop"])], range=g["yr"], anchor=xr,
                 zeroline=False, showline=False, ticks="", tickfont=tickfont,
                 ticklabelstandoff=6, fixedrange=True)
    if "labels" in g:
        yaxis.update(tickvals=g["labels"][0], ticktext=g["labels"][1], showgrid=False)
        for gv in g["grid"]:
            shapes.append(dict(type="line", xref=f"{xr} domain", yref=yr, x0=0, x1=1, y0=gv, y1=gv,
                               line=dict(color=GRID, width=1.5), layer="below"))
    else:
        yaxis.update(tickvals=g["grid"], ticktext=[str(v) for v in g["grid"]], showgrid=True,
                     gridcolor=GRID, gridwidth=1.5)
    layout[ya] = yaxis
    for m in METHODS:
        vals = RATE_DATA[i][m]
        filled = m == "M8"
        fig.add_trace(go.Scatter(
            x=CODON[:len(vals)], y=vals, mode="markers", name=m, showlegend=False,
            xaxis=xr, yaxis=yr, cliponaxis=False, hoverinfo="skip",
            marker=dict(symbol=SYMBOL[m], size=RATE_SIZE[m], color=RATE_COL[m],
                        line=dict(width=0 if filled else 1.2, color=RATE_COL[m]))))
    fig.add_trace(go.Scatter(x=TRUE_X, y=TRUE_Y, mode="lines", line=dict(color="black", width=2.2,
                  shape="hv"), xaxis=xr, yaxis=yr, showlegend=False, hoverinfo="skip",
                  cliponaxis=False, name="true"))
    annotations += [
        dict(text="dN-dS", x=px(g["dnds"][0]), y=py(g["dnds"][1]), xref="paper", yref="paper",
             xanchor="left", yanchor="middle", showarrow=False,
             font=dict(family=SERIF, size=15, color=TXT)),
        dict(text="Codon", x=px(g["codon"][0]), y=py(g["codon"][1]), xref="paper", yref="paper",
             xanchor="center", yanchor="middle", showarrow=False,
             font=dict(family=SERIF, size=18, color=TXT)),
        dict(text=legend_text(RATE_COL), x=px(g["leg"][0]), y=py(g["leg"][1]), xref="paper",
             yref="paper", xanchor="left", yanchor="top", align="left", showarrow=False,
             bordercolor="#333333", borderwidth=1.5, borderpad=1, bgcolor="white",
             font=dict(family=SERIF, size=13, color=TXT)),
    ]

# ----- column headers (boxed)
for text, x0, x1 in [("Positive Selection ROC", 93, 423), ("Rate Recapitulation", 660, 949)]:
    shapes.append(dict(type="rect", xref="paper", yref="paper", x0=px(x0), x1=px(x1),
                       y0=py(48), y1=py(9), line=dict(color="#333333", width=1.5)))
    annotations.append(dict(text=text, x=px((x0 + x1) / 2), y=py(28.5), xref="paper", yref="paper",
                            xanchor="center", yanchor="middle", showarrow=False,
                            font=dict(family=SERIF, size=33, color=TXT)))

fig.update_layout(
    width=FW, height=FH, margin=dict(l=0, r=0, t=0, b=0), autosize=False,
    paper_bgcolor="white", plot_bgcolor="white", showlegend=False,
    annotations=annotations, shapes=shapes, **layout)

fig.write_html("out.html", config={"displayModeBar": False, "staticPlot": True})
